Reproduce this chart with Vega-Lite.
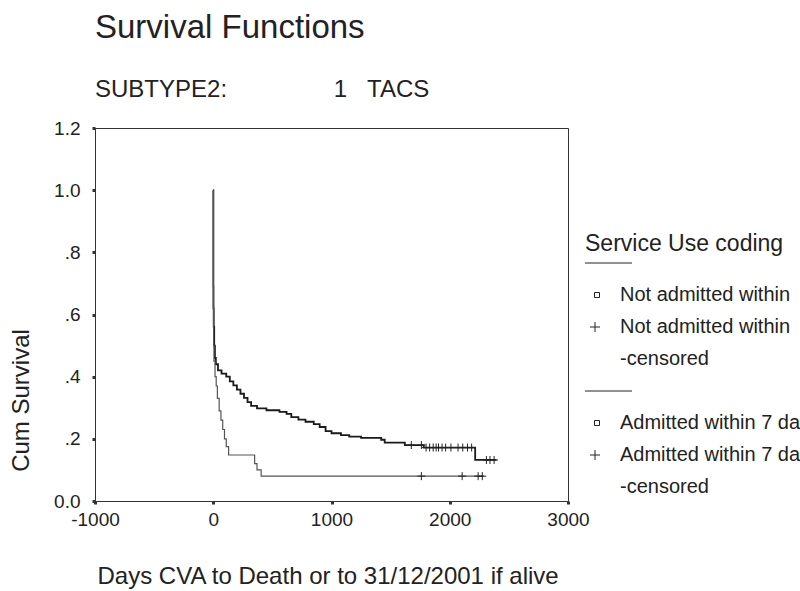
{
  "$schema": "https://vega.github.io/schema/vega-lite/v6.json",
  "autosize": {"type": "none"},
  "padding": {"left": 95, "top": 128, "right": 232, "bottom": 90},
  "width": 473,
  "height": 373,
  "background": "white",
  "config": {
    "font": "Liberation Sans",
    "view": {"stroke": "#333", "strokeWidth": 1}
  },
  "title": {
    "text": "Survival Functions",
    "subtitle": "SUBTYPE2:\u00a0\u00a0\u00a0\u00a0\u00a0\u00a0\u00a0\u00a0\u00a0\u00a0\u00a0\u00a0\u00a0\u00a0\u00a0\u00a01\u00a0\u00a0\u00a0TACS",
    "anchor": "start",
    "frame": "group",
    "font": "Liberation Sans",
    "fontSize": 33,
    "fontWeight": "normal",
    "color": "#222",
    "subtitleFont": "Liberation Sans",
    "subtitleFontSize": 24,
    "subtitleColor": "#222",
    "subtitlePadding": 33,
    "offset": 17
  },
  "data": {
    "values": [
      {"g": "n", "k": "curve", "t": 0, "s": 1.0},
      {"g": "n", "k": "curve", "t": 1, "s": 0.69},
      {"g": "n", "k": "curve", "t": 2, "s": 0.62},
      {"g": "n", "k": "curve", "t": 4, "s": 0.56},
      {"g": "n", "k": "curve", "t": 8, "s": 0.5},
      {"g": "n", "k": "curve", "t": 14, "s": 0.46},
      {"g": "n", "k": "curve", "t": 22, "s": 0.44},
      {"g": "n", "k": "curve", "t": 40, "s": 0.42},
      {"g": "n", "k": "curve", "t": 70, "s": 0.41},
      {"g": "n", "k": "curve", "t": 110, "s": 0.4},
      {"g": "n", "k": "curve", "t": 140, "s": 0.385},
      {"g": "n", "k": "curve", "t": 170, "s": 0.372},
      {"g": "n", "k": "curve", "t": 200, "s": 0.358},
      {"g": "n", "k": "curve", "t": 230, "s": 0.345},
      {"g": "n", "k": "curve", "t": 260, "s": 0.332},
      {"g": "n", "k": "curve", "t": 290, "s": 0.318},
      {"g": "n", "k": "curve", "t": 320, "s": 0.306},
      {"g": "n", "k": "curve", "t": 370, "s": 0.298},
      {"g": "n", "k": "curve", "t": 450, "s": 0.292},
      {"g": "n", "k": "curve", "t": 560, "s": 0.287},
      {"g": "n", "k": "curve", "t": 620, "s": 0.28},
      {"g": "n", "k": "curve", "t": 660, "s": 0.27},
      {"g": "n", "k": "curve", "t": 720, "s": 0.262},
      {"g": "n", "k": "curve", "t": 780, "s": 0.255},
      {"g": "n", "k": "curve", "t": 850, "s": 0.247},
      {"g": "n", "k": "curve", "t": 900, "s": 0.238},
      {"g": "n", "k": "curve", "t": 950, "s": 0.225},
      {"g": "n", "k": "curve", "t": 1000, "s": 0.218},
      {"g": "n", "k": "curve", "t": 1080, "s": 0.212},
      {"g": "n", "k": "curve", "t": 1150, "s": 0.207},
      {"g": "n", "k": "curve", "t": 1250, "s": 0.203},
      {"g": "n", "k": "curve", "t": 1420, "s": 0.197},
      {"g": "n", "k": "curve", "t": 1450, "s": 0.188},
      {"g": "n", "k": "curve", "t": 1620, "s": 0.18},
      {"g": "n", "k": "curve", "t": 1780, "s": 0.172},
      {"g": "n", "k": "curve", "t": 2215, "s": 0.132},
      {"g": "n", "k": "curve", "t": 2395, "s": 0.132},
      {"g": "a", "k": "curve", "t": 0, "s": 1.0},
      {"g": "a", "k": "curve", "t": 1, "s": 0.62},
      {"g": "a", "k": "curve", "t": 3, "s": 0.5},
      {"g": "a", "k": "curve", "t": 6, "s": 0.45},
      {"g": "a", "k": "curve", "t": 15, "s": 0.4},
      {"g": "a", "k": "curve", "t": 25, "s": 0.37},
      {"g": "a", "k": "curve", "t": 35, "s": 0.33},
      {"g": "a", "k": "curve", "t": 50, "s": 0.29},
      {"g": "a", "k": "curve", "t": 65, "s": 0.26},
      {"g": "a", "k": "curve", "t": 80, "s": 0.23},
      {"g": "a", "k": "curve", "t": 95, "s": 0.2},
      {"g": "a", "k": "curve", "t": 110, "s": 0.175},
      {"g": "a", "k": "curve", "t": 130, "s": 0.148},
      {"g": "a", "k": "curve", "t": 350, "s": 0.12},
      {"g": "a", "k": "curve", "t": 370, "s": 0.1},
      {"g": "a", "k": "curve", "t": 405, "s": 0.08},
      {"g": "a", "k": "curve", "t": 2290, "s": 0.08},
      {"g": "n", "k": "n_cens", "t": 1675, "s": 0.18},
      {"g": "n", "k": "n_cens", "t": 1760, "s": 0.18},
      {"g": "n", "k": "n_cens", "t": 1800, "s": 0.172},
      {"g": "n", "k": "n_cens", "t": 1830, "s": 0.172},
      {"g": "n", "k": "n_cens", "t": 1860, "s": 0.172},
      {"g": "n", "k": "n_cens", "t": 1885, "s": 0.172},
      {"g": "n", "k": "n_cens", "t": 1905, "s": 0.172},
      {"g": "n", "k": "n_cens", "t": 1935, "s": 0.172},
      {"g": "n", "k": "n_cens", "t": 1965, "s": 0.172},
      {"g": "n", "k": "n_cens", "t": 2010, "s": 0.172},
      {"g": "n", "k": "n_cens", "t": 2070, "s": 0.172},
      {"g": "n", "k": "n_cens", "t": 2110, "s": 0.172},
      {"g": "n", "k": "n_cens", "t": 2150, "s": 0.172},
      {"g": "n", "k": "n_cens", "t": 2185, "s": 0.172},
      {"g": "n", "k": "n_cens", "t": 2310, "s": 0.132},
      {"g": "n", "k": "n_cens", "t": 2340, "s": 0.132},
      {"g": "n", "k": "n_cens", "t": 2375, "s": 0.132},
      {"g": "a", "k": "a_cens", "t": 1760, "s": 0.08},
      {"g": "a", "k": "a_cens", "t": 2105, "s": 0.08},
      {"g": "a", "k": "a_cens", "t": 2240, "s": 0.08},
      {"g": "a", "k": "a_cens", "t": 2275, "s": 0.08}
    ]
  },
  "encoding": {
    "x": {
      "field": "t",
      "type": "quantitative",
      "scale": {"domain": [-1000, 3000], "nice": false, "zero": false},
      "axis": {
        "values": [-1000, 0, 1000, 2000, 3000],
        "labelExpr": "datum.value < 0 ? '-' + format(-datum.value, 'd') : format(datum.value, 'd')",
        "grid": false,
        "title": "Days CVA to Death or to 31/12/2001 if alive",
        "titleFont": "Liberation Sans",
        "titleFontSize": 24,
        "titleFontWeight": "normal",
        "titleColor": "#222",
        "titleAnchor": "start",
        "titleAlign": "left",
        "titleBaseline": "alphabetic",
        "titleX": 2,
        "titleY": 82,
        "labelFont": "Liberation Sans",
        "labelFontSize": 19,
        "labelColor": "#222",
        "labelPadding": 6,
        "labelFlush": false,
        "domainColor": "#333",
        "tickColor": "#333",
        "tickSize": 3,
        "tickWidth": 3
      }
    },
    "y": {
      "field": "s",
      "type": "quantitative",
      "scale": {"domain": [0, 1.2], "nice": false},
      "axis": {
        "values": [0, 0.2, 0.4, 0.6, 0.8, 1.0, 1.2],
        "labelExpr": "datum.value == 0 ? '0.0' : (datum.value >= 1 ? format(datum.value, '.1f') : replace(format(datum.value, '.1f'), '0.', '.'))",
        "grid": false,
        "title": "Cum Survival",
        "titleFont": "Liberation Sans",
        "titleFontSize": 24,
        "titleFontWeight": "normal",
        "titleColor": "#222",
        "titleAngle": 270,
        "titleAlign": "center",
        "titleBaseline": "alphabetic",
        "titleX": -67,
        "titleY": 272,
        "labelFont": "Liberation Sans",
        "labelFontSize": 19,
        "labelColor": "#222",
        "labelPadding": 12,
        "labelFlush": false,
        "domainColor": "#333",
        "tickColor": "#333",
        "tickSize": 3,
        "tickWidth": 3
      }
    }
  },
  "layer": [
    {
      "transform": [{"filter": "datum.g == 'n' && datum.k == 'curve'"}],
      "mark": {"type": "line", "interpolate": "step-after", "color": "#1a1a1a", "strokeWidth": 1.8}
    },
    {
      "transform": [{"filter": "datum.g == 'a' && datum.k == 'curve'"}],
      "mark": {"type": "line", "interpolate": "step-after", "color": "#555", "strokeWidth": 1.2}
    },
    {
      "transform": [{"filter": "datum.k != 'curve'"}],
      "mark": {"type": "point", "filled": false, "color": "#222", "size": 64, "strokeWidth": 1, "opacity": 1},
      "encoding": {
        "shape": {
          "field": "k",
          "type": "nominal",
          "scale": {
            "domain": ["n_line", "n_event", "n_cens", "n_cens2", "a_line", "a_event", "a_cens", "a_cens2"],
            "range": ["M-2,0H7.4", "M-0.1,-0.5H0.9V0.5H-0.1Z", "M-1,0H1M0,-1V1", "M0,0L0,0", "M-2,0H7.4", "M-0.1,-0.5H0.9V0.5H-0.1Z", "M-1,0H1M0,-1V1", "M0,0L0,0"]
          },
          "legend": {
            "title": "Service Use coding",
            "orient": "none",
            "legendX": 490,
            "legendY": 105,
            "labelExpr": "{'n_line': '', 'n_event': 'Not admitted within', 'n_cens': 'Not admitted within', 'n_cens2': '-censored', 'a_line': '', 'a_event': 'Admitted within 7 days', 'a_cens': 'Admitted within 7 days', 'a_cens2': '-censored'}[datum.value]",
            "titleFont": "Liberation Sans",
            "titleFontSize": 23,
            "titleFontWeight": "normal",
            "titleColor": "#222",
            "titlePadding": -3,
            "titleLimit": 400,
            "labelFont": "Liberation Sans",
            "labelFontSize": 20,
            "labelColor": "#222",
            "labelLimit": 600,
            "labelOffset": 15,
            "symbolSize": 100,
            "symbolStrokeColor": "#222",
            "symbolStrokeWidth": 1,
            "symbolFillColor": "transparent",
            "rowPadding": 12
          }
        }
      }
    }
  ]
}
